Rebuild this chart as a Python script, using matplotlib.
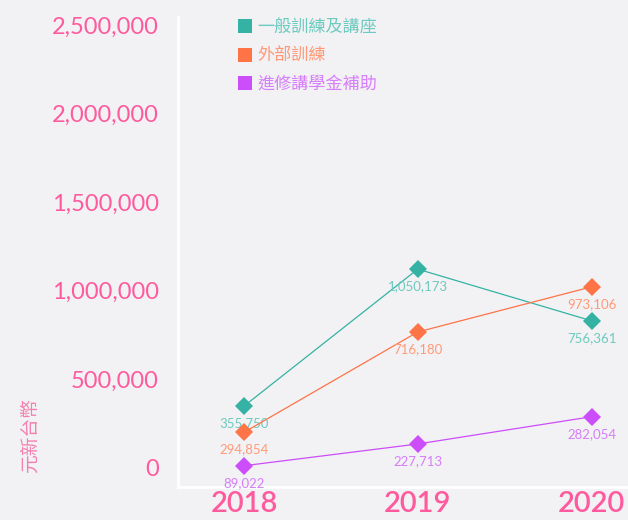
import matplotlib.pyplot as plt
from matplotlib.lines import Line2D
from matplotlib.ticker import FuncFormatter

# Data (marker positions, plus the printed data labels)
years = [2018, 2019, 2020]
series_names = ['一般訓練及講座', '外部訓練', '進修講學金補助']
general = [348000, 1122000, 830000]
external = [200000, 767000, 1022000]
scholarship = [11000, 134000, 288000]
general_labels = [355750, 1050173, 756361]
external_labels = [294854, 716180, 973106]
scholarship_labels = [89022, 227713, 282054]

colors = ['#34b3a4', '#ff7447', '#cc4dfa']
label_colors = ['#6ccbbf', '#ff9a78', '#d67efb']
pink = '#ff5a9e'
bg = '#f2f1f4'

plt.rcParams['font.family'] = ['Lato', 'Noto Sans CJK TC', 'DejaVu Sans']

fig = plt.figure(figsize=(6.28, 5.2), dpi=100, facecolor=bg)
ax = fig.add_axes([0.2834, 0.0635, 0.7166, 0.9035], facecolor=bg)

all_values = [general, external, scholarship]
all_labels = [general_labels, external_labels, scholarship_labels]
for vals, labs, c, lc in zip(all_values, all_labels, colors, label_colors):
    ax.plot(years, vals, color=c, linewidth=0.9, marker='D', markersize=9,
            markeredgewidth=0, zorder=3)
    for x, y, t in zip(years, vals, labs):
        ax.annotate(f'{t:,}', (x, y), xytext=(0, -8), textcoords='offset points',
                    ha='center', va='top', color=lc, fontsize=9.5)

ax.set_xlim(2018 - 0.38, 2020 + 0.21)
ax.set_ylim(-109000, 2546000)
ax.set_xticks(years)
ax.set_yticks([0, 500000, 1000000, 1500000, 2000000, 2500000])
ax.yaxis.set_major_formatter(FuncFormatter(lambda v, p: f'{int(v):,}'))
ax.tick_params(axis='y', length=0, labelsize=17, labelcolor=pink, pad=14)
ax.tick_params(axis='x', length=0, labelsize=21, labelcolor=pink, pad=3)
for lab in ax.get_xticklabels():
    lab.set_fontweight('semibold')

for side in ['top', 'right']:
    ax.spines[side].set_visible(False)
for side in ['left', 'bottom']:
    ax.spines[side].set_color('white')
    ax.spines[side].set_linewidth(2)

fig.text(0.048, 0.163, '元新台幣', rotation=90, ha='center', va='center',
         color='#f47fb0', fontsize=13.5, family=['Noto Sans CJK TC'])

handles = [Line2D([], [], linestyle='none', marker='s', markersize=9.5,
                  markeredgewidth=0, color=c) for c in colors]
leg = ax.legend(handles, series_names, loc='upper left', bbox_to_anchor=(0.1, 1.03),
                frameon=False, handlelength=0.8, handletextpad=0.3, labelspacing=0.6,
                prop={'family': ['Noto Sans CJK TC'], 'size': 12.3})
for txt, lc in zip(leg.get_texts(), label_colors):
    txt.set_color(lc)

plt.savefig('out.png', dpi=100, facecolor=bg)
